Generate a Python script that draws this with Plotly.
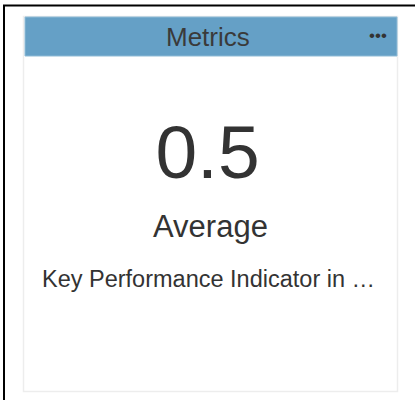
import plotly.graph_objects as go

# ---- data ----
card_title = "Metrics"
kpi_values = [0.5]
kpi_labels = ["Average"]
kpi_subtitles = ["Key Performance Indicator in \u2026"]

FONT = "Liberation Sans, Arial, Helvetica, sans-serif"
TXT = "#333333"
HEADER = "#65a0c6"

W, H = 415, 400

fig = go.Figure()

fig.add_trace(go.Indicator(
    mode="number",
    value=kpi_values[0],
    number=dict(font=dict(size=75, color=TXT, family=FONT), valueformat=".1f"),
    domain=dict(x=[0.1, 0.9], y=[1 - 197 / H, 1 - 107 / H]),
))

fig.update_layout(
    width=W, height=H,
    margin=dict(l=0, r=0, t=0, b=0),
    paper_bgcolor="white", plot_bgcolor="white",
    showlegend=False,
    xaxis=dict(range=[0, W], visible=False, fixedrange=True),
    yaxis=dict(range=[H, 0], visible=False, fixedrange=True),
)

shapes = [
    # outer frame lines (top and left)
    dict(type="line", x0=3, x1=W, y0=5.5, y1=5.5, line=dict(color="black", width=2)),
    dict(type="line", x0=4, x1=4, y0=5, y1=H, line=dict(color="black", width=2)),
    # card
    dict(type="rect", x0=23.5, x1=397.5, y0=16.5, y1=391.5,
         line=dict(color="#ededed", width=1.5), fillcolor="white", layer="below"),
    # header bar
    dict(type="rect", x0=25, x1=397, y0=17, y1=56,
         line=dict(color="#8fbbd6", width=1), fillcolor=HEADER, layer="below"),
]
for s in shapes:
    s["xref"] = "x"
    s["yref"] = "y"
fig.update_layout(shapes=shapes)

annotations = [
    dict(x=208, y=37, text=card_title, font=dict(size=26, color="#3a3a3a", family=FONT),
         showarrow=False, xanchor="center", yanchor="middle"),
    dict(x=378, y=35, text="\u2022\u2022\u2022", font=dict(size=17, color="#333333", family=FONT),
         showarrow=False, xanchor="center", yanchor="middle"),
    dict(x=210, y=226, text=kpi_labels[0], font=dict(size=31, color=TXT, family=FONT),
         showarrow=False, xanchor="center", yanchor="middle"),
    dict(x=208, y=279, text=kpi_subtitles[0], font=dict(size=23.5, color=TXT, family=FONT),
         showarrow=False, xanchor="center", yanchor="middle"),
]
for a in annotations:
    a["xref"] = "x"
    a["yref"] = "y"
fig.update_layout(annotations=annotations)

fig.write_html(
    "out.html",
    config={"displayModeBar": False, "staticPlot": True},
    post_script="document.body.style.margin='0';document.body.style.overflow='hidden';",
)
